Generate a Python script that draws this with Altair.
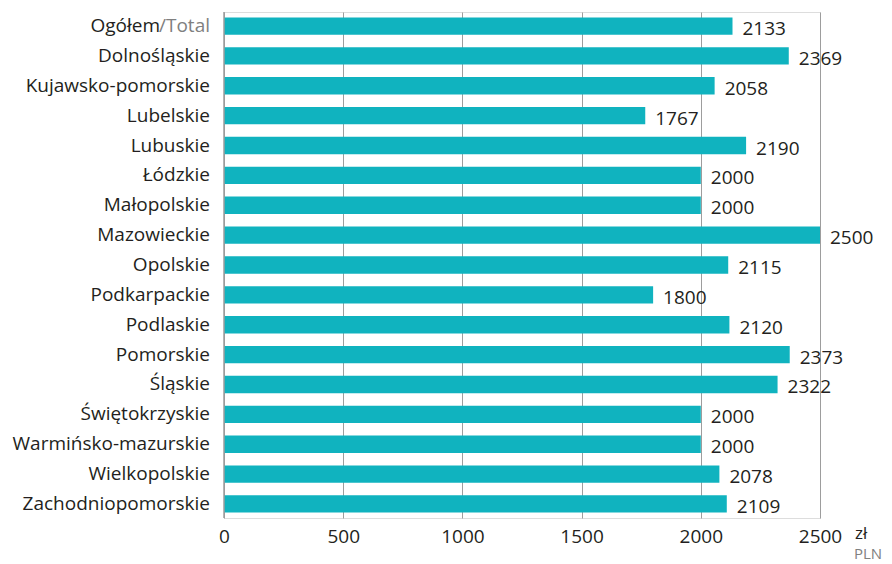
import altair as alt
import pandas as pd

regions = ["Ogółem/Total", "Dolnośląskie", "Kujawsko-pomorskie", "Lubelskie", "Lubuskie",
           "Łódzkie", "Małopolskie", "Mazowieckie", "Opolskie", "Podkarpackie", "Podlaskie",
           "Pomorskie", "Śląskie", "Świętokrzyskie", "Warmińsko-mazurskie", "Wielkopolskie",
           "Zachodniopomorskie"]
values = [2133, 2369, 2058, 1767, 2190, 2000, 2000, 2500, 2115, 1800, 2120, 2373, 2322,
          2000, 2000, 2078, 2109]
x_ticks = [0, 500, 1000, 1500, 2000, 2500]

FONT = "Open Sans"
FS = 19
DARK = "#231f20"
GRAY = "#808080"
TEAL = "#10b3bf"

df = pd.DataFrame({"region": regions, "value": values})
df["label"] = df["region"].where(df["region"] != "Ogółem/Total", "")

W, H = 596, 506

y_enc = alt.Y("region:N", sort=regions,
              scale=alt.Scale(paddingInner=0.42, paddingOuter=0.18),
              axis=None)
x_scale = alt.Scale(domain=[0, 2500], nice=False)

base = alt.Chart(df)

bars = base.mark_bar(color=TEAL).encode(
    x=alt.X("value:Q", scale=x_scale,
            axis=alt.Axis(values=x_ticks, format="d", title=None, grid=True, gridColor="#9d9d9d",
                          gridWidth=1, domain=False, ticks=False, labelFont=FONT,
                          labelFontSize=19, labelColor=DARK, labelPadding=9,
                          labelFlush=False)),
    y=y_enc,
)

zero_line = alt.Chart(pd.DataFrame({"v": [0]})).mark_rule(color="#9d9d9d", strokeWidth=1.5).encode(
    x=alt.X("v:Q", scale=x_scale)
)

value_text = base.mark_text(align="left", baseline="middle", dx=10, dy=3,
                            font=FONT, fontSize=19, color=DARK).encode(
    x=alt.X("value:Q", scale=x_scale), y=y_enc, text=alt.Text("value:Q", format="d"))

cat_text = base.mark_text(align="right", baseline="middle",
                          font=FONT, fontSize=FS, color=DARK).encode(
    x=alt.value(-14), y=y_enc, text="label:N")

tot = df[df["region"] == "Ogółem/Total"]
ogolem_text = alt.Chart(tot).mark_text(align="right", baseline="middle",
                                       font=FONT, fontSize=FS, color=DARK).encode(
    x=alt.value(-64), y=y_enc, text=alt.value("Ogółem"))
total_text = alt.Chart(tot).mark_text(align="right", baseline="middle",
                                      font=FONT, fontSize=FS, color=GRAY).encode(
    x=alt.value(-14), y=y_enc, text=alt.value("/Total"))

unit1 = alt.Chart(pd.DataFrame({"t": ["zł"]})).mark_text(
    align="left", baseline="middle", font=FONT, fontSize=17, color=DARK).encode(
    x=alt.value(W + 35), y=alt.value(H + 16), text="t:N")
unit2 = alt.Chart(pd.DataFrame({"t": ["PLN"]})).mark_text(
    align="left", baseline="middle", font=FONT, fontSize=15, color=GRAY).encode(
    x=alt.value(W + 34), y=alt.value(H + 36), text="t:N")

chart = alt.layer(bars, zero_line, value_text, cat_text, ogolem_text, total_text, unit1, unit2).properties(
    width=W, height=H,
    autosize=alt.AutoSizeParams(type="none"),
    padding={"top": 4, "left": 216, "right": 64, "bottom": 50}
).configure_view(stroke=None).configure(background="white")

chart.save("out.html", embed_options={"renderer": "svg", "actions": False})
